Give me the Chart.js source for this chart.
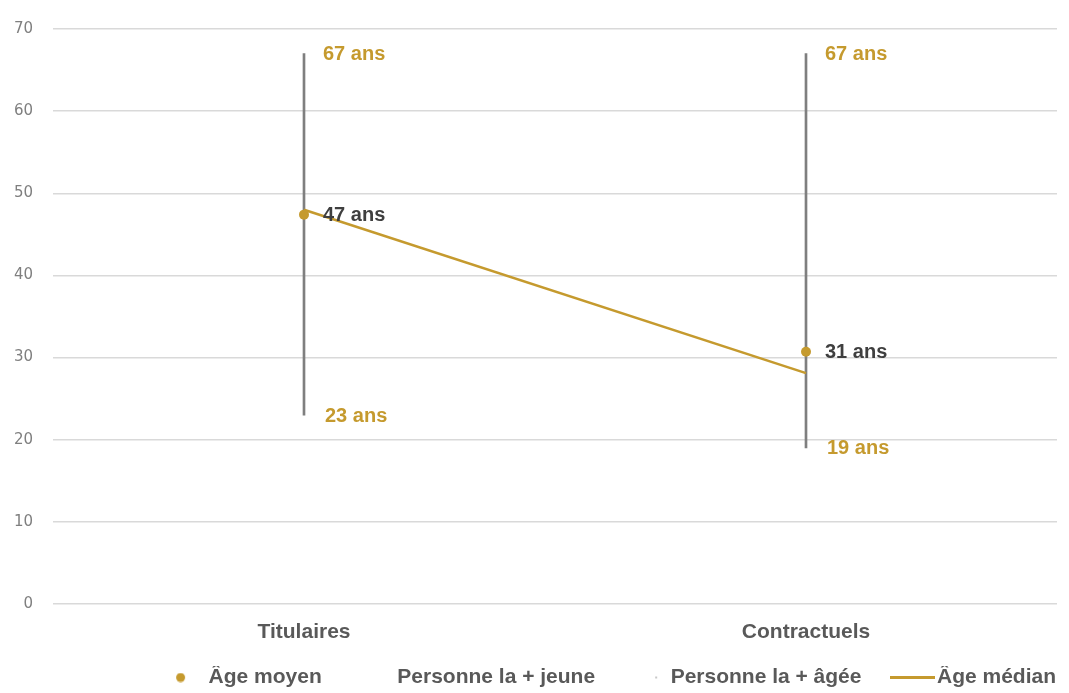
<!DOCTYPE html>
<html>
<head>
<meta charset="utf-8">
<script src="https://cdn.jsdelivr.net/npm/chart.js@4/dist/chart.umd.min.js"></script>
<style>
  html, body { margin: 0; padding: 0; background: #fff; overflow: hidden; }
  canvas { display: block; }
</style>
</head>
<body>
<canvas id="c" width="1069" height="698"></canvas>
<script>
// ── Data ───────────────────────────────────────────────────────────────────
const categories = ["Titulaires", "Contractuels"];
const ageMoyen   = [47.4, 30.7];
const ageMin     = [23, 19];
const ageMax     = [67, 67];
const ageMedian  = [48, 28.1];
const yTicks     = [0, 10, 20, 30, 40, 50, 60, 70];

const GOLD  = "#C59A2E";
const GREY  = "#7f7f7f";
const TEXT  = "#595959";
const SANS  = "'Liberation Sans', Arial, sans-serif";
const BOX   = 64;   // legend marker box width

// little canvases used as legend markers (drawn centred on the marker box)
function marker(w, h, draw) {
  const c = document.createElement("canvas");
  c.width = w; c.height = h;
  draw(c.getContext("2d"));
  return c;
}
const mkDot   = marker(BOX, 10, g => { g.fillStyle = GOLD; g.beginPath(); g.arc(46.5, 5, 4.5, 0, Math.PI * 2); g.fill(); });
const mkNone  = marker(2, 2, () => {});
const mkSmall = marker(BOX, 4, g => { g.fillStyle = "#c8c8c8"; g.fillRect(59, 1, 2, 2); });
const mkLine  = marker(81, 3, g => { g.fillStyle = GOLD; g.fillRect(36, 0, 45, 3); });
const legendMarks = { "Âge moyen": mkDot, "Personne la + jeune": mkNone, "Personne la + âgée": mkSmall, "Âge médian": mkLine };

// ── Value labels ("67 ans" …) ─────────────────────────────────────────────
const valueLabels = {
  id: "valueLabels",
  afterDatasetsDraw(chart) {
    const { ctx, scales: { x, y } } = chart;
    ctx.save();
    ctx.font = "bold 20px " + SANS;
    ctx.textBaseline = "middle";
    ctx.textAlign = "left";
    categories.forEach((_, i) => {
      const px = x.getPixelForValue(i);
      ctx.fillStyle = GOLD;
      ctx.fillText(Math.round(ageMax[i]) + " ans", px + 19, y.getPixelForValue(ageMax[i]) + 1);
      ctx.fillText(Math.round(ageMin[i]) + " ans", px + 21, y.getPixelForValue(ageMin[i]) + 1);
      ctx.fillStyle = "#3f3f3f";
      ctx.fillText(Math.round(ageMoyen[i]) + " ans", px + 19, y.getPixelForValue(ageMoyen[i]) + 1);
    });
    ctx.restore();
  }
};

new Chart(document.getElementById("c"), {
  type: "bar",
  data: {
    labels: categories,
    datasets: [
      { type: "line", label: "Âge moyen", data: ageMoyen, showLine: false,
        pointRadius: 5, pointHoverRadius: 5, pointBackgroundColor: GOLD, pointBorderWidth: 0, order: 1 },
      { type: "line", label: "Personne la + jeune", data: ageMin, showLine: false, pointRadius: 0, order: 2 },
      { type: "line", label: "Personne la + âgée", data: ageMax, showLine: false, pointRadius: 0, order: 2 },
      { type: "line", label: "Âge médian", data: ageMedian, borderColor: GOLD, borderWidth: 2.5,
        pointRadius: 0, tension: 0, order: 3 },
      { label: "range", data: categories.map((_, i) => [ageMin[i], ageMax[i]]),
        backgroundColor: GREY, barThickness: 2, order: 5 }
    ]
  },
  options: {
    responsive: false, animation: false,
    layout: { padding: { top: 24, right: 12, bottom: 0, left: 0 } },
    plugins: {
      tooltip: { enabled: false },
      legend: {
        position: "bottom", align: "end",
        labels: {
          usePointStyle: true, pointStyleWidth: BOX, padding: 1,
          color: TEXT, font: { family: SANS, size: 21, weight: "bold" },
          generateLabels: chart => chart.data.datasets
            .filter(d => d.label !== "range")
            .map((d, i) => ({
              text: d.label, datasetIndex: i, fontColor: TEXT,
              pointStyle: legendMarks[d.label], fillStyle: GOLD, strokeStyle: GOLD, lineWidth: 0
            }))
        }
      }
    },
    scales: {
      x: {
        grid: { display: false }, border: { display: false },
        ticks: { color: TEXT, padding: 8, font: { family: SANS, size: 21, weight: "bold" } },
        afterFit: s => { s.height = 62; }
      },
      y: {
        min: 0, max: 70,
        afterBuildTicks: s => { s.ticks = yTicks.map(v => ({ value: v })); },
        grid: { color: "#d9d9d9", lineWidth: 1.5, drawTicks: false }, border: { display: false },
        ticks: { color: "#7f7f7f", padding: 20, font: { family: "'DejaVu Sans', sans-serif", size: 15 } },
        afterFit: s => { s.width = 53; }
      }
    }
  },
  plugins: [valueLabels]
});
</script>
</body>
</html>
